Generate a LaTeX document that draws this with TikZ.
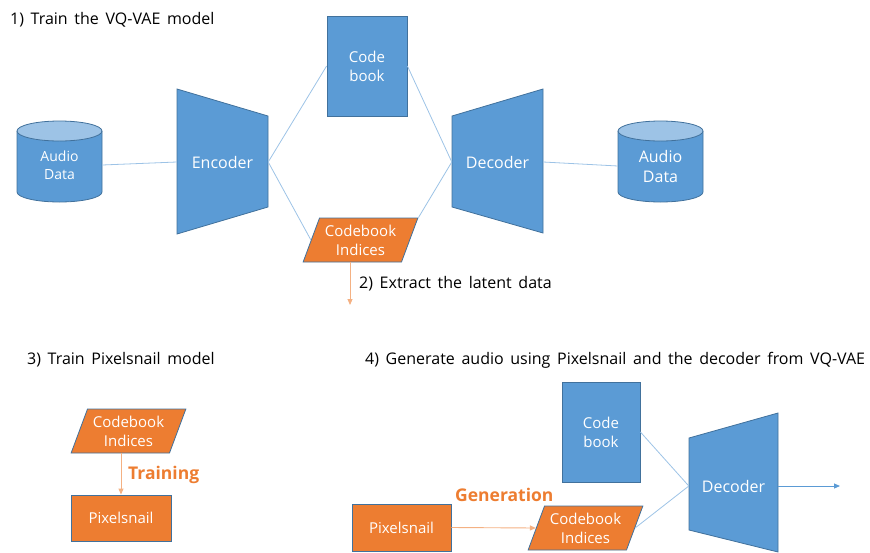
\documentclass[tikz,border=0pt]{standalone}
\usepackage{fontspec}
\setmainfont[WordSpace=1.6]{Open Sans}
\usetikzlibrary{shapes.geometric,arrows.meta}
\definecolor{vqblue}{HTML}{5B9BD5}
\definecolor{vqedge}{HTML}{41719C}
\definecolor{vqlight}{HTML}{9DC3E6}
\definecolor{vqorange}{HTML}{ED7D31}
\definecolor{vqpeach}{HTML}{F4B183}
\begin{document}
\begin{tikzpicture}[
  x=1pt, y=-1pt,
  block/.style={
    draw=vqedge,
    fill=vqblue,
    text=white,
    align=center,
    line width=0.8pt,
    inner sep=0pt,
    font=\fontsize{15}{19}\selectfont
  },
  orangebox/.style={block, fill=vqorange},
  indices/.style={
    orangebox,
    trapezium,
    trapezium left angle=65,
    trapezium right angle=115,
    trapezium stretches=true,
    minimum width=115pt,
    minimum height=44pt
  },
  bodytext/.style={text=white, align=center, inner sep=0pt, font=\fontsize{16}{20}\selectfont},
  heading/.style={anchor=west, inner sep=0pt, font=\fontsize{16}{19}\selectfont},
  tag/.style={anchor=west, inner sep=0pt, text=vqorange, font=\fontsize{17.5}{20}\selectfont\bfseries},
  shell/.style={fill=vqblue, draw=vqedge, line width=0.8pt},
  link/.style={draw=vqlight, line width=0.8pt},
  flow/.style={draw=vqpeach, line width=0.9pt, -{Triangle[length=6pt,width=5pt]}},
  outflow/.style={draw=vqblue, line width=0.9pt, -{Triangle[length=6pt,width=5pt]}}
]
\useasboundingbox (0,0) rectangle (870,552);

\node[heading] (t1) at (10,20) {1) Train the VQ-VAE model};
\node[heading] (t3) at (27,360) {3) Train Pixelsnail model};
\node[heading] (t4) at (365,360) {4) Generate audio using Pixelsnail and the decoder from VQ-VAE};

% 1) VQ-VAE
\fill[vqblue] (17,131) -- (17,192) arc[start angle=180,end angle=360,x radius=42.5pt,y radius=10pt] -- (102,131) -- cycle;
\draw[vqedge, line width=0.8pt] (17,131) -- (17,192) arc[start angle=180,end angle=360,x radius=42.5pt,y radius=10pt] -- (102,131);
\filldraw[fill=vqlight, draw=vqedge, line width=0.8pt] (59.5,131) ellipse [x radius=42.5pt, y radius=10pt];
\node[bodytext, minimum width=85pt, font=\fontsize{14}{18}\selectfont] (src) at (59.5,165) {Audio\\Data};

\fill[shell] (177,89) -- (268,116) -- (268,207) -- (177,234) -- cycle;
\node[bodytext, minimum width=91pt] (enc) at (222.5,162) {Encoder};

\node[block, minimum width=80pt, minimum height=100pt] (cb1) at (367,66) {Code\\book};
\node[indices] (idx1) at (360.5,240) {Codebook\\Indices};

\fill[shell] (452,116) -- (543,89) -- (543,233) -- (452,207) -- cycle;
\node[bodytext, minimum width=91pt] (dec1) at (497.5,162) {Decoder};

\fill[vqblue] (618,131) -- (618,192) arc[start angle=180,end angle=360,x radius=42.5pt,y radius=10pt] -- (703,131) -- cycle;
\draw[vqedge, line width=0.8pt] (618,131) -- (618,192) arc[start angle=180,end angle=360,x radius=42.5pt,y radius=10pt] -- (703,131);
\filldraw[fill=vqlight, draw=vqedge, line width=0.8pt] (660.5,131) ellipse [x radius=42.5pt, y radius=10pt];
\node[bodytext, minimum width=85pt] (dst) at (660.5,166) {Audio\\Data};

\draw[link] (src.east) -- (enc.west);
\draw[link] (enc.east) -- (cb1.west);
\draw[link] (enc.east) -- (idx1.west);
\draw[link] (cb1.east) -- (dec1.west);
\draw[link] (idx1.top right corner) -- (dec1.west);
\draw[link] (dec1.east) -- (dst.west);

% 2) latent data
\coordinate (latent) at (350,305);
\draw[flow] (idx1.south -| latent) -- (latent);
\node[heading] (extract) at (359,284) {2) Extract the latent data};

% 3) Pixelsnail training
\node[indices] (idx3) at (128.5,431) {Codebook\\Indices};
\node[orangebox, minimum width=100pt, minimum height=46pt] (pix1) at (121,518) {Pixelsnail};
\draw[flow] (idx3.south -| pix1.north) -- (pix1.north);
\node[tag] (train) at (128,475) {Training};

% 4) generation
\node[orangebox, minimum width=99pt, minimum height=47pt] (pix2) at (401.5,527.5) {Pixelsnail};
\node[indices] (idx2) at (585.5,528) {Codebook\\Indices};
\node[block, minimum width=78pt, minimum height=100pt] (cb2) at (601,432) {Code\\book};
\fill[shell] (689,438) -- (778,413) -- (778,552) -- (689,530) -- cycle;
\node[bodytext, minimum width=89pt] (dec2) at (733.5,486) {Decoder};
\coordinate (wave) at (840,486);

\draw[flow] (pix2.east) -- (idx2.west);
\node[tag] (gen) at (455,495) {Generation};
\draw[link] (cb2.east) -- (dec2.west);
\draw[link] (idx2.east) -- (dec2.west);
\draw[outflow] (dec2.east) -- (wave);
\end{tikzpicture}
\end{document}
